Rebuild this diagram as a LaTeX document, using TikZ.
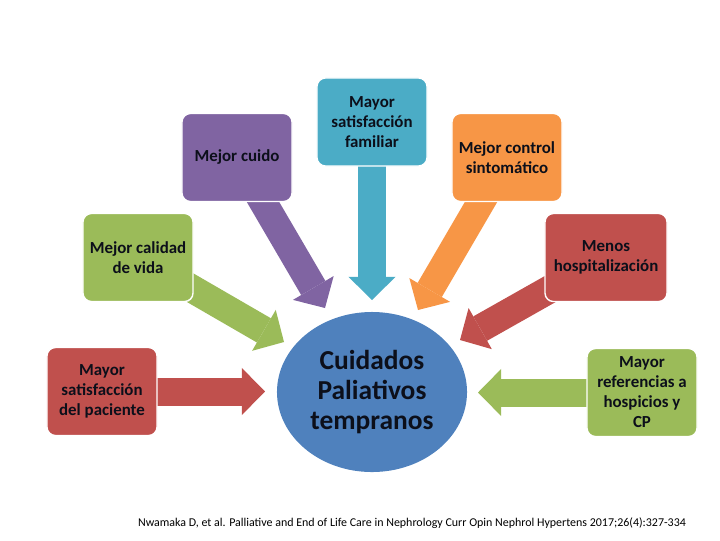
\documentclass[tikz,border=0pt]{standalone}
\usepackage{fontspec}
\setmainfont{Carlito}
\usetikzlibrary{arrows.meta, shapes.geometric}
\definecolor{tikzpurple}{HTML}{8064A2}
\definecolor{tikzteal}{HTML}{4BACC6}
\definecolor{tikzorange}{HTML}{F79646}
\definecolor{tikzgreen}{HTML}{9BBB59}
\definecolor{tikzred}{HTML}{C0504D}
\definecolor{tikzblue}{HTML}{4F81BD}
\definecolor{tikzink}{HTML}{0C0F1A}
\pgfdeclarelayer{bg}
\pgfsetlayers{bg,main}

\begin{document}
\begin{tikzpicture}[
            x=0.025cm, y=-0.025cm,
            box/.style={fill=#1, draw=white, line width=1pt, rounded corners=6pt, minimum width=2.75cm, minimum height=2.2cm, align=center, text=tikzink, font=\fontsize{12}{14.2}\selectfont\bfseries},
            fat/.style={draw=#1, line width=0.7cm, -{Triangle[length=0.58cm, width=1.18cm, line width=0pt 0 0]}}
        ]
          \useasboundingbox (0,0) rectangle (720,540);
          % outer boxes
          \node[box=tikzpurple] (cuido) at (237,157.5) {Mejor cuido};
          \node[box=tikzteal] (familiar) at (372,122) {Mayor\\satisfacción\\familiar};
          \node[box=tikzorange] (control) at (507,157.5) {Mejor control\\sintomático};
          \node[box=tikzgreen] (calidad) at (138,257.5) {Mejor calidad\\de vida};
          \node[box=tikzred, minimum width=3.05cm] (hosp) at (606,257.5) {Menos\\hospitalización};
          \node[box=tikzred] (paciente) at (102,391.5) {Mayor\\satisfacción\\del paciente};
          \node[box=tikzgreen] (hospicios) at (642,392.5) {Mayor\\referencias a\\hospicios y\\CP};
          % centre
          \node[ellipse, fill=tikzblue, minimum width=4.75cm, minimum height=4cm, inner sep=0pt, align=center, text=tikzink, font=\fontsize{19.5}{21.3}\selectfont\bfseries] (cp) at (372,392) {Cuidados\\Paliativos\\tempranos};
          % arrow tips
          \coordinate (tcuido) at (325,308);
          \coordinate (tfamiliar) at (372,300);
          \coordinate (tcontrol) at (418,310);
          \coordinate (tcalidad) at (284,342);
          \coordinate (thosp) at (460,340);
          \coordinate (tpaciente) at (265,391.5);
          \coordinate (thospicios) at (478,392.5);
          \begin{pgfonlayer}{bg}
            \draw[fat=tikzpurple] (cuido.center) -- (tcuido);
            \draw[fat=tikzteal] (familiar.center) -- (tfamiliar);
            \draw[fat=tikzorange] (control.center) -- (tcontrol);
            \draw[fat=tikzgreen] (calidad.center) -- (tcalidad);
            \draw[fat=tikzred] (hosp.center) -- (thosp);
            \draw[fat=tikzred] (paciente.center) -- (tpaciente);
            \draw[fat=tikzgreen] (hospicios.center) -- (thospicios);
          \end{pgfonlayer}
          \node[font=\fontsize{8.5}{10}\selectfont, text=black] (ref) at (412,523) {Nwamaka D, et al. Palliative and End of Life Care in Nephrology Curr Opin Nephrol Hypertens 2017;26(4):327-334};
        \end{tikzpicture}
\end{document}
